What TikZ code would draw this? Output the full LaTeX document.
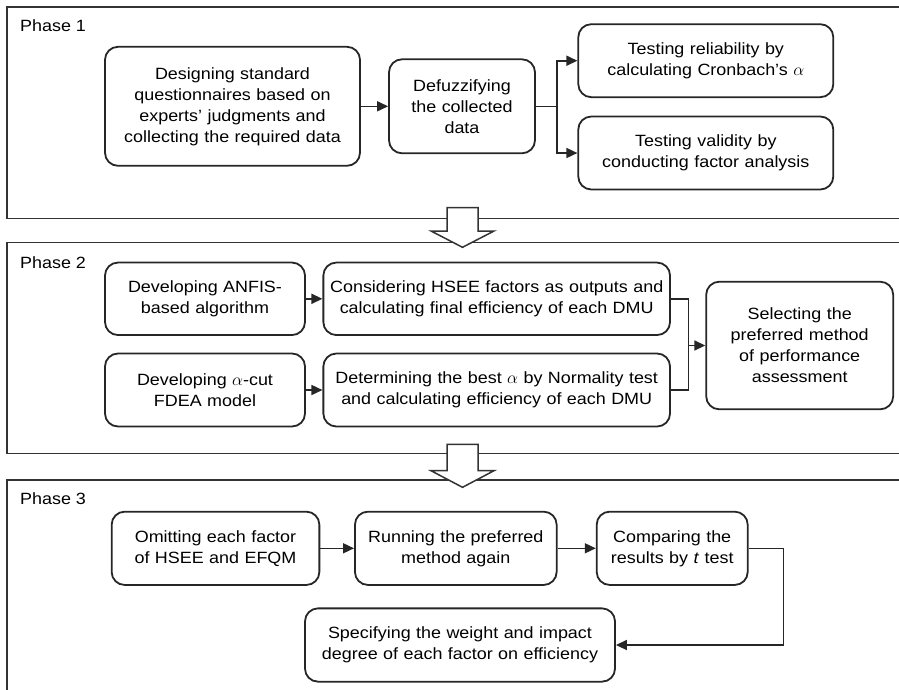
\documentclass[tikz,border=0pt]{standalone}
\usepackage{fontspec}
\setmainfont{Liberation Sans}[FakeStretch=1.1]
\usetikzlibrary{arrows.meta}

\begin{document}
\begin{tikzpicture}[x=1pt, y=-1pt, font=\fontsize{16.3}{21}\selectfont,
                    >={Triangle[length=11pt, width=10pt]}]

\def\xl{7.0}
\def\xr{915.0}
\def\xarr{462.5}

\tikzset{stepbox/.style = {draw=black!85, line width=1.8pt, rounded corners=13pt,
                           align=center, inner sep=0pt}}
\tikzset{link/.style = {line width=1.6pt, black!85}}
\tikzset{frameline/.style = {line width=1.5pt, black!80}}
\tikzset{phaselabel/.style = {anchor=west, inner sep=0pt}}

\useasboundingbox (0,0) rectangle (899,689);
\clip (0,0) rectangle (899,689);

%phase frames
\draw[frameline] (\xl,  7.0) rectangle (\xr,218.3);
\draw[frameline] (\xl,242.7) rectangle (\xr,453.3);
\draw[frameline] (\xl,480.0) rectangle (\xr,700.0);

%block arrows between phases
\draw[frameline, fill=white] (\xarr-15.5,207.7) -- (\xarr+15.5,207.7) -- (\xarr+15.5,231.0)
     -- (\xarr+31.5,231.0) -- (\xarr,247.3) -- (\xarr-31.5,231.0) -- (\xarr-15.5,231.0) -- cycle;
\draw[frameline, fill=white] (\xarr-15.5,444.3) -- (\xarr+15.5,444.3) -- (\xarr+15.5,470.7)
     -- (\xarr+31.5,470.7) -- (\xarr,487.3) -- (\xarr-31.5,470.7) -- (\xarr-15.5,470.7) -- cycle;

\node[phaselabel] (ph1) at (20, 26.0) {Phase 1};
\node[phaselabel] (ph2) at (20,262.3) {Phase 2};
\node[phaselabel] (ph3) at (20,499.0) {Phase 3};

%phase 1
\node[stepbox, text width=255pt, minimum height=119pt] (design) at (232.5,106.3)
     {Designing standard\\questionnaires based on\\experts' judgments and\\collecting the required data};
\node[stepbox, text width=146pt, minimum height=94pt] (defuzz) at (462.0,106.3)
     {Defuzzifying\\the collected\\data};
\node[stepbox, text width=255pt, minimum height=73pt] (reliab) at (705.8,60.7)
     {Testing reliability by\\calculating Cronbach's $\alpha$};
\node[stepbox, text width=255pt, minimum height=73pt] (valid) at (705.8,153.0)
     {Testing validity by\\conducting factor analysis};

\coordinate (fork1) at (556.7,106.3);
\draw[link, ->] (design) -- (defuzz);
\draw[link] (defuzz) -- (fork1);
\draw[link, ->] (fork1) |- (reliab);
\draw[link, ->] (fork1) |- (valid);

%phase 2
\node[stepbox, text width=200pt, minimum height=72.5pt] (anfis) at (205.0,298.8)
     {Developing ANFIS-\\based algorithm};
\node[stepbox, text width=200pt, minimum height=73pt] (alphacut) at (205.0,390.0)
     {Developing $\alpha$-cut\\FDEA model};
\node[stepbox, text width=346.7pt, minimum height=72.5pt] (hsee) at (496.7,298.8)
     {Considering HSEE factors as outputs and\\calculating final efficiency of each DMU};
\node[stepbox, text width=346.7pt, minimum height=73pt] (normal) at (496.7,390.0)
     {Determining the best $\alpha$ by Normality test\\and calculating efficiency of each DMU};
\node[stepbox, text width=187pt, minimum height=127.6pt] (select) at (799.7,345.5)
     {Selecting the\\preferred method\\of performance\\assessment};

\coordinate (join2) at (688.3,345.5);
\draw[link, ->] (anfis) -- (hsee);
\draw[link, ->] (alphacut) -- (normal);
\draw[link] (hsee) -| (join2);
\draw[link] (normal) -| (join2);
\draw[link, ->] (join2) -- (select);

%phase 3
\node[stepbox, text width=207.7pt, minimum height=73.3pt] (omit) at (215.5,548.3)
     {Omitting each factor\\of HSEE and EFQM};
\node[stepbox, text width=201.7pt, minimum height=73.3pt] (running) at (455.8,548.3)
     {Running the preferred\\method again};
\node[stepbox, text width=151pt, minimum height=73.3pt] (compare) at (672.2,548.3)
     {Comparing the\\results by \textit{t} test};
\node[stepbox, text width=310pt, minimum height=73.3pt] (specify) at (460.0,645.0)
     {Specifying the weight and impact\\degree of each factor on efficiency};

\coordinate (back3) at (783.3,645.0);
\draw[link, ->] (omit) -- (running);
\draw[link, ->] (running) -- (compare);
\draw[link, ->] (compare) -| (back3) -- (specify);

\end{tikzpicture}
\end{document}
